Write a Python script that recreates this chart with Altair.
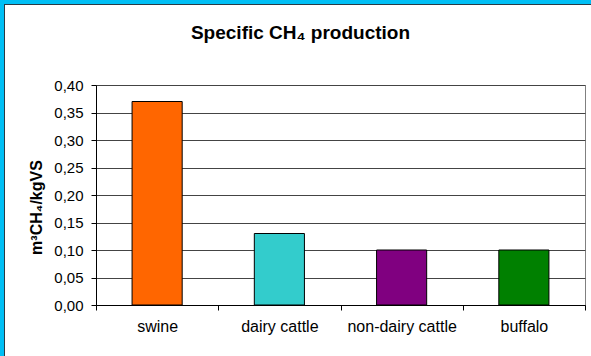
import altair as alt
import pandas as pd

categories = ["swine", "dairy cattle", "non-dairy cattle", "buffalo"]
values = [0.37, 0.13, 0.10, 0.10]
palette = ["#FF6600", "#33CCCC", "#800080", "#008000"]
y_ticks = [0.0, 0.05, 0.10, 0.15, 0.20, 0.25, 0.30, 0.35, 0.40]

df = pd.DataFrame({"animal": categories, "value": values})
one = pd.DataFrame({"k": [0]})

FONT = "Liberation Sans"
BLUE = "#00BFF5"
DARK = "#2a3a44"

W, H = 489, 220
PL, PT, PR, PB = 96, 85, 6, 51

bars = alt.Chart(df).mark_bar(
    stroke="black", strokeWidth=1, width=alt.RelativeBandSize(0.41)
).encode(
    x=alt.X(
        "animal:N",
        sort=categories,
        scale=alt.Scale(paddingInner=0, paddingOuter=0),
        axis=alt.Axis(
            title=None, labelAngle=0, tickBand="extent", grid=False,
            domainColor="black", tickColor="black", tickSize=5,
            labelFont=FONT, labelFontSize=16, labelColor="black",
            labelPadding=8, domainWidth=1, tickWidth=1,
        ),
    ),
    y=alt.Y(
        "value:Q",
        scale=alt.Scale(domain=[0, 0.4], nice=False),
        axis=alt.Axis(
            title="m³CH₄/kgVS", values=y_ticks,
            labelExpr="replace(format(datum.value, '.2f'), '.', ',')",
            grid=True, gridColor="#444444", gridWidth=1,
            domainColor="black", tickColor="black", tickSize=5,
            labelFont=FONT, labelFontSize=15, labelColor="black",
            labelPadding=8,
            titleFont=FONT, titleFontSize=16, titleFontWeight="bold",
            titleColor="black", titleAngle=-90, titleX=-60, titleY=122,
            titleAlign="center", titleBaseline="middle",
        ),
    ),
    color=alt.Color(
        "animal:N", scale=alt.Scale(domain=categories, range=palette), legend=None
    ),
)

def frame(x, x2, y, y2, c):
    return alt.Chart(one).mark_rect(color=c).encode(
        x=alt.value(x), x2=alt.value(x2), y=alt.value(y), y2=alt.value(y2)
    )

top_blue = frame(-PL, W + PR, -PT, -PT + 4, BLUE)
left_blue = frame(-PL, -PL + 4, -PT, H + PB, BLUE)
top_dark = frame(-PL + 4, W + PR, -PT + 4, -PT + 5, DARK)
left_dark = frame(-PL + 4, -PL + 5, -PT + 4, H + PB, DARK)

chart = alt.layer(bars, top_blue, left_blue, top_dark, left_dark).properties(
    width=W,
    height=H,
    autosize=alt.AutoSizeParams(type="none"),
    padding={"left": PL, "top": PT, "right": PR, "bottom": PB},
    background="white",
    title=alt.TitleParams(
        "Specific CH₄ production", font=FONT, fontSize=19, fontWeight="bold",
        color="black", anchor="middle", frame="group", baseline="middle",
        offset=0, dx=-40, dy=52,
    ),
).configure_view(stroke="#808080", strokeWidth=1)

chart.save("out.html", embed_options={"renderer": "svg", "actions": False})
